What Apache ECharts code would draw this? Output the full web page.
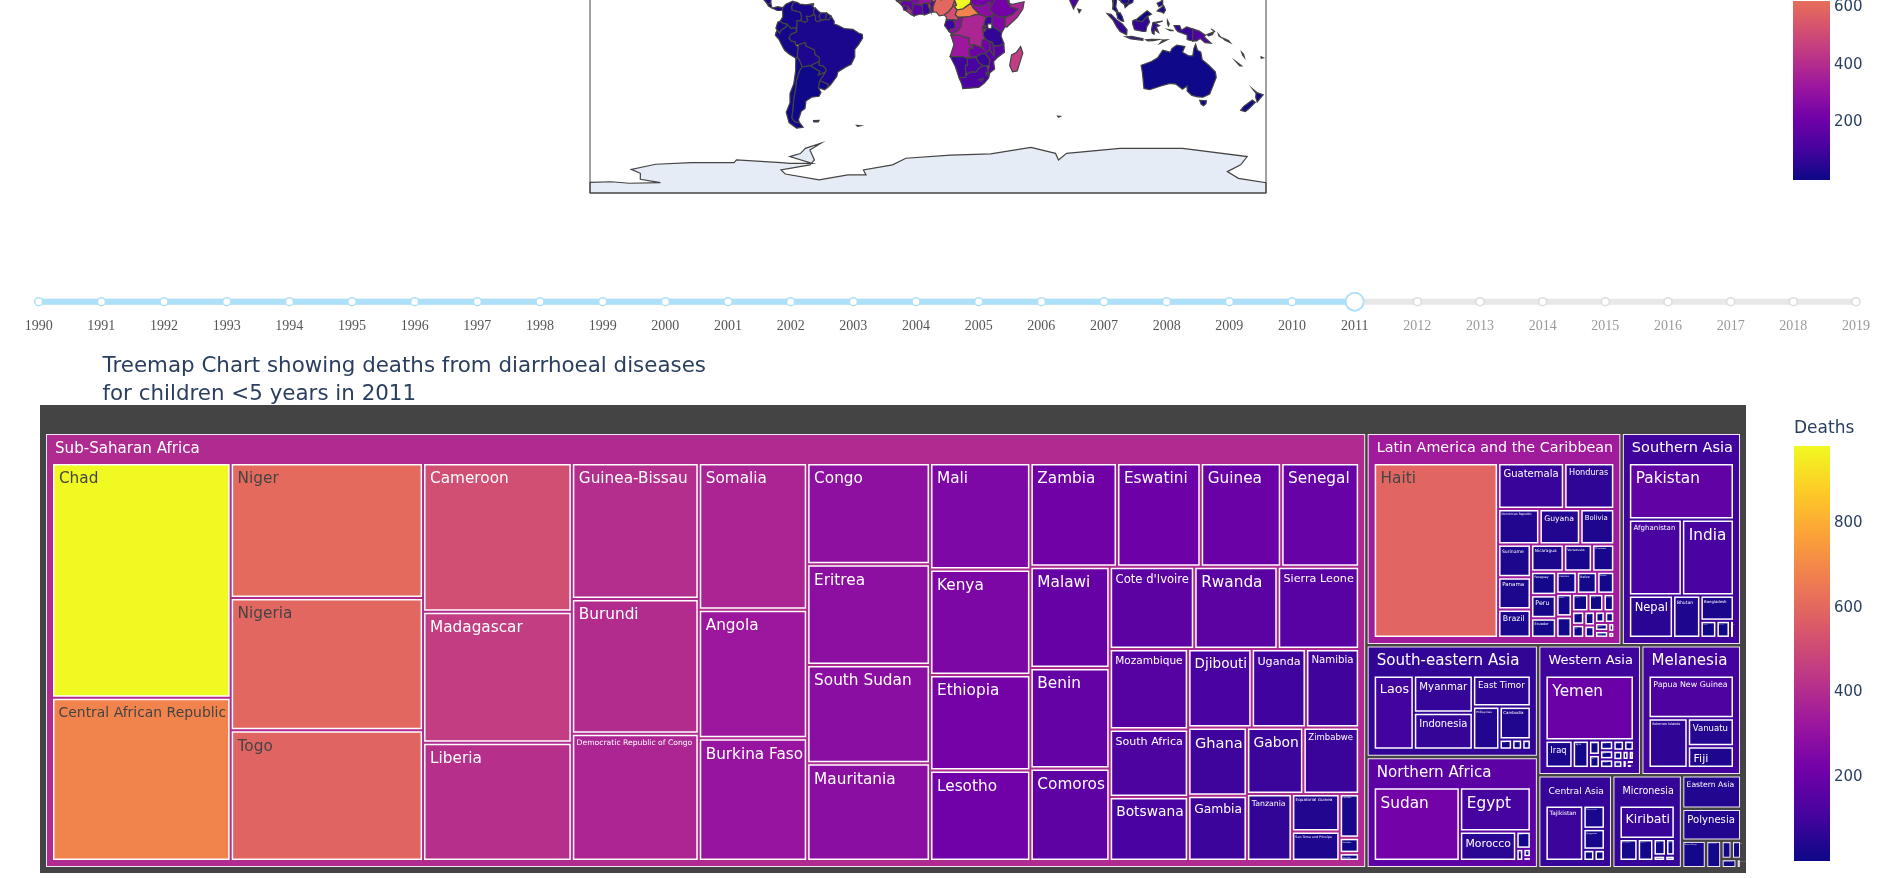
<!DOCTYPE html>
<html><head><meta charset="utf-8">
<style>html,body{margin:0;padding:0;background:#fff;overflow:hidden}#c{width:1897px;height:878px}</style>
<script src="https://cdn.jsdelivr.net/npm/echarts@6/dist/echarts.min.js"></script>
</head><body><div id="c"></div>
<script>
const years=[1990,1991,1992,1993,1994,1995,1996,1997,1998,1999,2000,2001,2002,2003,2004,2005,2006,2007,2008,2009,2010,2011,2012,2013,2014,2015,2016,2017,2018,2019];
const currentYear=2011;
const plasma=['#0d0887','#46039f','#7201a8','#9c179e','#bd3786','#d8576b','#ed7953','#fb9f3a','#fdca26','#f0f921'];
const deathsMax=984;
const mapBarVisibleMax=623;
const colorbarTicks=[200,400,600,800];
const titleLines=['Treemap Chart showing deaths from diarrhoeal diseases','for children <5 years in 2011'];

const subSaharanNames=['Chad','Central African Republic','Niger','Nigeria','Togo','Cameroon','Madagascar','Liberia','Guinea-Bissau','Burundi','Democratic Republic of Congo','Somalia','Angola','Burkina Faso','Congo','Eritrea','South Sudan','Mauritania','Mali','Kenya','Ethiopia','Lesotho','Zambia','Eswatini','Guinea','Senegal','Malawi','Benin','Comoros',"Cote d'Ivoire",'Rwanda','Sierra Leone','Mozambique','South Africa','Botswana','Djibouti','Uganda','Namibia','Ghana','Gambia','Gabon','Zimbabwe','Tanzania','Equatorial Guinea','Sao Tome and Principe','Cape Verde','Mauritius','Seychelles'];
const subSaharanDeaths=[984,684,609,597,590,519,457,413,405,401,379,373,327,312,292,290,283,282,251,248,225,213,211,204,196,190,188,187,172,163,161,157,148,124,118,117,100,98,94,90,88,87,70.6,42,33,20,7,3.6];
const latinNames=['Haiti','Guatemala','Honduras','Dominican Republic','Guyana','Bolivia','Suriname','Panama','Brazil','Nicaragua','Venezuela','El Salvador','Paraguay','Peru','Ecuador','Colombia','Belize','Mexico','Jamaica','Trinidad and Tobago','Saint Lucia','Grenada','Dominica','Argentina','Chile','Uruguay','Costa Rica','Cuba','Puerto Rico','Barbados','Bahamas','Antigua','Bermuda'];
const latinDeaths=[594,83,63,40,39.5,33,29.5,29,25.5,24.5,21,16.6,16.1,15.9,13.5,12.5,12.3,10.4,9.8,9.2,7.9,7.2,5.2,4.5,4.4,4.1,3.6,3.1,3,2.9,2.5,1.5,1];
const southAsiaNames=['Pakistan','Afghanistan','India','Nepal','Bhutan','Bangladesh','Maldives','Sri Lanka','Iran'];
const southAsiaDeaths=[174,118,116,55,34,25,8,6.8,2];
const southEastAsiaNames=['Laos','Myanmar','Indonesia','East Timor','Philippines','Cambodia','Vietnam','Thailand','Malaysia'];
const southEastAsiaDeaths=[104,77,76,63,40,36,4.5,3.6,3.1];
const northAfricaNames=['Sudan','Egypt','Morocco','Algeria','Libya','Tunisia','Western Sahara'];
const northAfricaDeaths=[222,110,58,8.8,3,2.2,1];
const westAsiaNames=['Yemen','Iraq','Syria','Saudi Arabia','Turkey','Jordan','Oman','Azerbaijan','Georgia','Palestine','Armenia','Lebanon','Kuwait','Qatar','Bahrain','United Arab Emirates','Israel','Cyprus'];
const westAsiaDeaths=[200,26,15.5,5.5,5,4.5,4.2,4,3.8,3.5,3,2.5,2,1.7,1.2,1,0.7,0.3];
const melanesiaNames=['Papua New Guinea','Solomon Islands','Vanuatu','Fiji'];
const melanesiaDeaths=[128,68,45,35];
const centralAsiaNames=['Tajikistan','Turkmenistan','Kyrgyzstan','Uzbekistan','Kazakhstan'];
const centralAsiaDeaths=[93,22.3,20,5.5,5.2];
const micronesiaNames=['Kiribati','Marshall Islands','Micronesia','Nauru','Palau','Guam','Tuvalu'];
const micronesiaDeaths=[83,18,15.6,9.4,6.6,2.8,2.3];
const regionNames=['Sub-Saharan Africa','Latin America and the Caribbean','Southern Asia','South-eastern Asia','Northern Africa','Western Asia','Melanesia','Central Asia','Micronesia'];
const regionColorValues=[395,340,98,72,165,95,105,75,75];
const regionCountries=[subSaharanNames,latinNames,southAsiaNames,southEastAsiaNames,northAfricaNames,westAsiaNames,melanesiaNames,centralAsiaNames,micronesiaNames];
const regionDeaths=[subSaharanDeaths,latinDeaths,southAsiaDeaths,southEastAsiaDeaths,northAfricaDeaths,westAsiaDeaths,melanesiaDeaths,centralAsiaDeaths,micronesiaDeaths];
const plainRegionNames=['Eastern Asia','Polynesia','Eastern Europe','Southern Europe','Western Europe','Northern Europe','Northern America','Australia and New Zealand'];
const plainRegionDeaths=[42,40,14,9,4,3.7,3,0.9];
const darkLabelFrom=550;

const landOnlyDeaths={'Australia':3,'New Zealand':3,'Falkland Islands':3,'French Guiana':10,'South Georgia':3,'Kerguelen':3,'New Caledonia':10};
const lakeNames=['Lake Victoria'];
const worldShapes={
 'Colombia':[[[-77.4,8.7],[-75.5,10.7],[-72,12.2],[-71.3,11.8],[-72.5,9.5],[-72.4,7.4],[-70.1,6.9],[-67.8,6.2],[-67.3,3.5],[-67.8,1.8],[-69.8,1.7],[-69.8,-0.5],[-69.9,-4.2],[-70.6,-2],[-72.9,-2.4],[-75.2,-0.1],[-77,0.3],[-78.8,1.4],[-77.3,3.8],[-77.4,6.5]]],
 'Venezuela':[[[-71.3,11.8],[-69.7,11.5],[-68.2,10.6],[-65,10.2],[-62,10.7],[-60.8,8.6],[-60.1,8.5],[-61,7],[-60.7,5.2],[-62.8,4],[-64.8,4.1],[-64,1.9],[-65.5,0.8],[-67,1.5],[-67.8,1.8],[-67.3,3.5],[-67.8,6.2],[-70.1,6.9],[-72.4,7.4],[-72.5,9.5]]],
 'Guyana':[[[-60.1,8.5],[-58.5,7],[-57.2,5.9],[-58,4],[-56.8,1.9],[-58.8,1.2],[-60,2],[-59.9,4],[-60.7,5.2],[-61,7]]],
 'Suriname':[[[-57.2,5.9],[-54,5.9],[-54.5,2.4],[-56.8,1.9],[-58,4]]],
 'French Guiana':[[[-54,5.9],[-51.7,4.3],[-52.7,2.3],[-54.5,2.4]]],
 'Ecuador':[[[-80,1],[-78.8,1.4],[-77,0.3],[-75.2,-0.1],[-75.5,-1.5],[-78.4,-3.4],[-79,-5],[-80.3,-3.4],[-81,-2.2]]],
 'Peru':[[[-81,-4.7],[-80.3,-3.4],[-79,-5],[-78.4,-3.4],[-75.5,-1.5],[-75.2,-0.1],[-72.9,-2.4],[-70.6,-2],[-69.9,-4.2],[-73,-5.5],[-74,-7.5],[-72.9,-9],[-70.6,-9.5],[-70.6,-11],[-69,-12.5],[-69.5,-15],[-69.5,-17.5],[-70.4,-18.3],[-74,-16],[-76.3,-14],[-77.5,-12],[-79.5,-8],[-81.3,-6]]],
 'Brazil':[[[-51.7,4.3],[-50,1.5],[-50,0],[-48,-0.7],[-44.5,-2.5],[-40,-2.8],[-37,-4.8],[-35,-5.5],[-34.8,-7.5],[-37,-11],[-39,-13.5],[-39,-17.5],[-40.9,-21.5],[-44,-23],[-48,-25.5],[-48.6,-28],[-52,-32.5],[-53.4,-33.7],[-53.3,-32],[-57.6,-30.2],[-54.6,-25.6],[-54.3,-24],[-55.8,-22.4],[-58,-22],[-58,-20],[-57.8,-18],[-60.2,-16.3],[-60.5,-13.8],[-65,-11.8],[-65.3,-10],[-69,-11],[-70.6,-11],[-70.6,-9.5],[-72.9,-9],[-74,-7.5],[-73,-5.5],[-69.9,-4.2],[-69.8,-0.5],[-69.8,1.7],[-67.8,1.8],[-67,1.5],[-65.5,0.8],[-64,1.9],[-64.8,4.1],[-62.8,4],[-60.7,5.2],[-59.9,4],[-60,2],[-58.8,1.2],[-56.8,1.9],[-54.5,2.4],[-52.7,2.3]]],
 'Bolivia':[[[-69,-11],[-65.3,-10],[-65,-11.8],[-60.5,-13.8],[-60.2,-16.3],[-57.8,-18],[-58,-20],[-62.6,-22.2],[-67,-22.9],[-68.4,-19.5],[-69.5,-17.5],[-69.5,-15],[-69,-12.5]]],
 'Paraguay':[[[-58,-20],[-58,-22],[-55.8,-22.4],[-54.3,-24],[-54.6,-25.6],[-58.5,-27.2],[-57.6,-25.3],[-60,-24],[-62.6,-22.2]]],
 'Chile':[[[-70.4,-18.3],[-69.5,-17.5],[-68.4,-19.5],[-67,-22.9],[-68.4,-25],[-70,-30],[-70.5,-35],[-71.5,-40],[-71.8,-45],[-72.5,-50],[-71,-52],[-68.5,-52.5],[-66.5,-55],[-70,-55.5],[-74,-52.5],[-75.5,-47],[-73.5,-42],[-73.5,-37],[-71.5,-32],[-70.5,-25]]],
 'Argentina':[[[-67,-22.9],[-62.6,-22.2],[-60,-24],[-57.6,-25.3],[-58.5,-27.2],[-54.6,-25.6],[-57.6,-30.2],[-58.4,-34],[-57,-36.5],[-58,-38.5],[-62,-39],[-65,-41],[-65.5,-45],[-67.5,-46.5],[-69,-51],[-68.5,-52.5],[-71,-52],[-72.5,-50],[-71.8,-45],[-71.5,-40],[-70.5,-35],[-70,-30],[-68.4,-25]]],
 'Uruguay':[[[-57.6,-30.2],[-53.3,-32],[-53.4,-33.7],[-55,-35],[-58.4,-34]]],
 'Falkland Islands':[[[-61,-51.5],[-58,-51.3],[-58.5,-52.2],[-60.8,-52.2]]],
 'South Georgia':[[[-38,-54],[-36,-54.2],[-36.5,-54.7],[-37.5,-54.5]]],
 'Panama':[[[-83,8.5],[-80,9.2],[-77.4,8.7],[-77.9,7.2],[-80.4,7.3]]],
 'Costa Rica':[[[-85.8,11],[-83.7,10.9],[-83,8.5],[-85,9.5]]],
 'Nicaragua':[[[-87.5,13],[-83.5,15],[-83.7,10.9],[-85.8,11]]],
 'Trinidad and Tobago':[[[-61.8,10.1],[-60.9,10.1],[-61,10.8],[-61.8,10.7]]],
 'Senegal':[[[-17.5,14.7],[-16.7,12.3],[-13.7,12.6],[-11.4,12.4],[-12,14.5],[-14,16.6],[-16.5,16]]],
 'Guinea-Bissau':[[[-16.7,12.3],[-13.7,12.6],[-13.7,11.7],[-15,11]]],
 'Guinea':[[[-15,11],[-13.7,11.7],[-13.7,12.6],[-11.4,12.4],[-9,12.4],[-7.7,10.4],[-8.2,7.6],[-9.4,7.4],[-10.7,9.3],[-12.4,9.9],[-13.3,9.1]]],
 'Sierra Leone':[[[-13.3,9.1],[-12.4,9.9],[-10.7,9.3],[-10.7,8.5],[-11.4,6.9],[-13,7.6]]],
 'Liberia':[[[-11.4,6.9],[-10.7,8.5],[-10.7,9.3],[-9.4,7.4],[-8.2,7.6],[-8.5,5.9],[-7.5,4.4],[-9,5]]],
 "Cote d'Ivoire":[[[-7.5,4.4],[-8.5,5.9],[-8.2,7.6],[-7.7,10.4],[-5.4,10.4],[-3,10],[-2.7,5.2],[-4.5,5.2]]],
 'Ghana':[[[-3,10],[-2.8,11],[-0.2,11.1],[0.5,9],[1.2,6.1],[-2,4.8],[-2.7,5.2]]],
 'Togo':[[[-0.2,11.1],[0.9,11],[1.6,9],[1.6,6.2],[1.2,6.1],[0.5,9]]],
 'Benin':[[[0.9,11],[2.4,12.2],[3.6,11.7],[2.7,9],[2.7,6.4],[1.6,6.2],[1.6,9]]],
 'Nigeria':[[[2.7,6.4],[2.7,9],[3.6,11.7],[4.1,13.5],[7,13],[10,13.3],[13.6,13.7],[14.2,12.4],[13,9],[11,6.6],[8.6,4.8],[6,4.3],[4.4,6.3]]],
 'Burkina Faso':[[[-5.4,10.4],[-5.5,12],[-3.8,13.5],[-1,15],[1,14.9],[2.4,12.2],[0.9,11],[-0.2,11.1],[-2.8,11],[-3,10]]],
 'Mali':[[[-12,14.5],[-11.4,12.4],[-9,12.4],[-7.7,10.4],[-5.4,10.4],[-5.5,12],[-3.8,13.5],[-1,15],[-1,20],[-12,20]]],
 'Niger':[[[1,14.9],[2.4,12.2],[3.6,11.7],[4.1,13.5],[7,13],[10,13.3],[13.6,13.7],[15.5,16.9],[12,23],[4,19]]],
 'Chad':[[[14.2,12.4],[15.1,10],[13.9,9.4],[15.5,7.5],[18.6,8],[20,9],[22.8,11],[22.9,13],[22,15],[24,19.5],[15.5,23],[15.5,16.9],[13.6,13.7]]],
 'Cameroon':[[[8.6,4.8],[11,6.6],[13,9],[14.2,12.4],[15.1,10],[13.9,9.4],[15.5,7.5],[14.5,5],[16.1,3.5],[16,1.8],[13.3,2.2],[9.8,2.3],[9.7,3.9]]],
 'Central African Republic':[[[15.5,7.5],[18.6,8],[20,9],[22.8,11],[24,8.7],[27.4,5.1],[25,5],[22.4,4],[18.5,3.6],[16.1,3.5],[14.5,5]]],
 'South Sudan':[[[24,8.7],[22.8,11],[25,10],[27,9.6],[30,10],[33,12],[34,10],[33,7.8],[35,5.4],[34,4.2],[31,3.7],[27.4,5.1]]],
 'Sudan':[[[22.8,11],[22.9,13],[22,15],[24,20],[37,20],[36.5,14.5],[34,10],[33,12],[30,10],[27,9.6],[25,10]]],
 'Eritrea':[[[36.5,14.5],[37,18],[39.5,15],[43.1,12.7],[41,14.5]]],
 'Ethiopia':[[[36.5,14.5],[41,14.5],[42.3,12.5],[42.9,11],[44,9],[48,8],[45,5],[42,4],[39.5,3.5],[36,4.5],[35,5.4],[33,7.8],[34,10]]],
 'Djibouti':[[[42.3,12.5],[43.2,12.4],[43.3,11.5],[42.9,11]]],
 'Somalia':[[[42.9,11],[43.3,11.5],[45,10.5],[48,11.2],[51.2,11.8],[50.5,8],[47.5,3.5],[42,-1.6],[41,-1.5],[41,3],[42,4],[45,5],[48,8],[44,9]]],
 'Kenya':[[[34,4.2],[35,5.4],[36,4.5],[39.5,3.5],[42,4],[41,3],[41,-1.5],[39.2,-4.7],[37.7,-3.5],[34,-1],[34,1]]],
 'Uganda':[[[31,3.7],[34,4.2],[34,1],[34,-1],[30.5,-1],[29.6,-1.4],[30,1.5]]],
 'Tanzania':[[[30.5,-1],[34,-1],[37.7,-3.5],[39.2,-4.7],[38.9,-6.5],[39.5,-8],[40.4,-10.5],[37.8,-11.7],[34.9,-11.5],[34,-9.5],[32,-9],[30.5,-8],[29.4,-6],[29.4,-4.4],[30.7,-3.4],[30.8,-2.4]]],
 'Lake Victoria':[[[31.7,0],[34,0.2],[34,-2.2],[32,-2.7]]],
 'Rwanda':[[[29,-1.4],[30.5,-1],[30.8,-2.4],[29,-2.7]]],
 'Burundi':[[[29,-2.7],[30.8,-2.4],[30.7,-3.4],[29.4,-4.4]]],
 'Democratic Republic of Congo':[[[12.2,-6],[13,-4.7],[14,-4.5],[16,-3.5],[17.7,-1],[17.7,1],[18.5,3.6],[22.4,4],[25,5],[27.4,5.1],[31,3.7],[30,1.5],[29.6,-1.4],[29,-1.4],[29,-2.7],[29.4,-4.4],[29.4,-6],[30.5,-8],[28.9,-8.5],[28.5,-11.8],[29.8,-13.4],[28.4,-12.5],[25.4,-11.4],[22,-11],[22,-9.5],[21.8,-7.3],[19.5,-7],[17,-6],[13,-5.9]]],
 'Congo':[[[11.1,-3.9],[12.2,-5],[13,-4.7],[14,-4.5],[16,-3.5],[17.7,-1],[17.7,1],[18.5,3.6],[16.1,3.5],[16,1.8],[13.3,2.2],[14.4,-0.2],[14.2,-2.3],[12.5,-2.4],[11.7,-3]]],
 'Gabon':[[[9.8,2.3],[13.3,2.2],[14.4,-0.2],[14.2,-2.3],[12.5,-2.4],[11.7,-3],[11.1,-3.9],[8.8,-0.8]]],
 'Angola':[[[12.2,-6],[13,-5.9],[17,-6],[19.5,-7],[21.8,-7.3],[22,-9.5],[22,-11],[24,-11],[24,-13],[22,-13],[22,-16.2],[23.4,-17.6],[20.9,-18.3],[18.5,-17.4],[11.8,-17.3],[13.8,-11]]],
 'Zambia':[[[22,-13],[24,-13],[24,-11],[25.4,-11.4],[28.4,-12.5],[29.8,-13.4],[28.5,-11.8],[28.9,-8.5],[30.5,-8],[32,-9],[33,-9.5],[33,-14],[30.3,-15.6],[28,-16],[25.5,-17.5],[23.4,-17.6],[22,-16.2]]],
 'Malawi':[[[33,-9.5],[34,-9.5],[34.9,-11.5],[35.3,-14.4],[35.2,-17],[34.3,-15.8],[33,-14]]],
 'Mozambique':[[[34.9,-11.5],[37.8,-11.7],[40.4,-10.5],[40.7,-15],[37,-17.8],[34.9,-20],[35.5,-24],[32.9,-26],[32,-25.8],[32.5,-22.3],[32.9,-19],[30.3,-15.6],[33,-14],[34.3,-15.8],[35.2,-17],[35.3,-14.4]]],
 'Zimbabwe':[[[25.5,-17.5],[28,-16],[30.3,-15.6],[32.9,-19],[32.5,-22.3],[29.4,-22.2],[27,-20.6]]],
 'Namibia':[[[11.8,-17.3],[18.5,-17.4],[20.9,-18.3],[25,-17.8],[23.4,-18],[21,-18.3],[21,-22],[20,-22],[20,-28.4],[16.5,-28.6],[14.5,-22.5]]],
 'Botswana':[[[21,-18.3],[23.4,-18],[25.5,-17.8],[27,-20.6],[29.4,-22.2],[27,-23.7],[25.5,-25.7],[22.8,-25.5],[20.8,-26.8],[20,-25],[20,-22],[21,-22]]],
 'South Africa':[[[16.5,-28.6],[20,-28.4],[20.8,-26.8],[22.8,-25.5],[25.5,-25.7],[27,-23.7],[29.4,-22.2],[31.5,-22.4],[32,-25.8],[32.9,-26],[32.3,-28.8],[30,-31.5],[27,-33.8],[22,-34.2],[18.5,-34.4],[18,-32]]],
 'Lesotho':[[[27,-29.7],[29.3,-29],[29,-30.5],[27.5,-30.5]]],
 'Eswatini':[[[30.9,-25.8],[32,-26],[32,-27.3],[31,-27.1]]],
 'Madagascar':[[[49.3,-12],[50.5,-15.5],[47.5,-25],[45,-25.5],[43.5,-22],[44.5,-16.5],[47,-15.2]]],
 'India':[[[74.5,14.8],[77.5,8.1],[80.2,13],[80.2,16],[74.5,16]]],
 'Sri Lanka':[[[79.8,8],[81.5,7.5],[80.5,6]]],
 'Thailand':[[[99,14],[98.3,8],[100.3,6.5],[101.5,5.8],[100,9],[100.5,13.5],[102,12.7],[103,14]]],
 'Myanmar':[[[94.3,16],[97.5,16.5],[98.7,10],[99,14],[99,16]]],
 'Cambodia':[[[102.5,14],[102.7,11.8],[104.5,10.5],[106.5,11],[107.5,14]]],
 'Vietnam':[[[107.5,14.5],[109.3,13],[109,11.5],[106.8,10.4],[105,8.7],[104.5,10.5],[106.5,11],[107.5,14]]],
 'Malaysia':[[[100.3,6.5],[101.5,5.8],[102.3,6],[103.4,4],[104.2,1.4],[103,1.6],[101,3]],[[109.7,2],[111.3,2.7],[113.5,4.5],[116.7,7],[119,5.2],[117,4.2],[114,1.2]]],
 'Indonesia':[[[95.3,5.6],[97.5,5.2],[100.5,2.2],[103.5,0],[106,-3],[105.8,-5.8],[102.3,-4],[100.5,-1.5],[98.7,1.8]],[[105.2,-6.8],[108.5,-6.6],[114.5,-7.8],[114.4,-8.7],[108,-7.9]],[[109,1.5],[109.7,2],[114,1.2],[117,4.2],[118,1],[116.5,-1.5],[116,-4],[114.5,-4],[110,-3],[109,0]],[[119.8,0.8],[125,1.5],[121,0.4],[123.3,-0.9],[121.5,-1.5],[122.8,-4.5],[120.5,-3],[120.4,-5.5],[119.5,-5],[119,-3]],[[116,-8.4],[119,-8.2],[123,-8.3],[120,-8.9],[117,-9]],[[127.5,2],[128.5,0],[128,-1],[127.5,0.5]],[[128,-3],[130.8,-3.5],[129,-3.5]],[[131,-0.8],[134,-0.8],[135,-3.3],[137.8,-1.5],[141,-2.6],[141,-9.1],[138,-8.3],[138,-5.8],[133,-4],[132,-2.8]]],
 'East Timor':[[[123.5,-10.3],[127.3,-8.4],[125,-8.6]]],
 'Philippines':[[[122,7],[125.5,9.8],[126.5,7.5],[125.5,5.8],[124,6.5]],[[120.5,16],[122,16],[124,13],[121,13.5]],[[122,11],[125,12.5],[125,10.2],[123,9.2]]],
 'Papua New Guinea':[[[141,-2.6],[144.5,-3.8],[147.8,-6],[147,-6.8],[150.8,-10.3],[147.5,-10],[145,-7.7],[143,-9],[141,-9.1]],[[148.5,-5.6],[152.2,-4.2],[151.5,-5.6],[149.5,-6.3]],[[150.8,-2.7],[152.9,-4.2],[152.5,-3.8]],[[154.7,-5.5],[155.8,-7],[155,-6.5]]],
 'Solomon Islands':[[[157,-7.5],[160,-8.8],[161,-10],[158,-8.5]]],
 'Vanuatu':[[[167,-15],[167.5,-16.5],[168.5,-17.8],[168,-16]]],
 'New Caledonia':[[[164,-20],[167,-22.3],[166,-22.3]]],
 'Fiji':[[[177.4,-17.5],[178.6,-18],[177.5,-18.3]]],
 'Australia':[[[113.5,-22],[114.2,-26],[115,-34.3],[118,-35],[124,-33],[129,-31.6],[132,-32],[135.5,-34.8],[138,-33],[138,-35.7],[140.5,-38],[143.5,-38.8],[146.5,-39],[150,-37.3],[151.5,-33.5],[153.5,-28.5],[153,-25.5],[149.5,-22],[146,-19],[145.3,-15],[143.5,-14],[142.5,-10.8],[141.6,-13],[141,-17],[139,-17],[135.5,-15],[136.8,-12],[132.5,-11.2],[130,-13],[129,-15],[125,-14],[122.3,-18],[119,-20]],[[144.7,-40.7],[148.3,-40.9],[148,-42.5],[146.8,-43.6],[145.5,-42.8]]],
 'New Zealand':[[[172.7,-34.4],[175.5,-36.7],[178.5,-37.7],[177,-39.5],[175.3,-41.6],[174.5,-39],[174.7,-37]],[[172.7,-40.5],[174.3,-41.7],[171,-45],[169,-46.6],[166.5,-46],[168,-44]]],
 'Kerguelen':[[[69,-49],[70.5,-49.2],[69.5,-49.7]]],
 'Antarctica':[[[-180,-84.3],[-168.7,-84],[-159,-84.8],[-142.5,-84.5],[-153.2,-82.7],[-153.2,-79.5],[-158,-77.4],[-145,-74.7],[-126,-73.8],[-103.3,-73.8],[-102,-72.4],[-78.3,-73.8],[-73.6,-74.2],[-61.7,-74.2],[-73.6,-70.6],[-68,-69],[-65.3,-66.2],[-57,-63.5],[-62.9,-67.1],[-60.5,-72.4],[-62.9,-75],[-78.3,-77.7],[-76,-79.9],[-58,-83],[-42.7,-80.4],[-33,-80.4],[-34.4,-77.7],[-18.9,-75],[-11.8,-71.5],[12,-69.8],[33.4,-69.2],[54.8,-65.7],[67.9,-68.9],[69.5,-72.4],[73.8,-68.9],[102.3,-66.2],[135.6,-66.2],[170,-70.6],[166.5,-75],[159.4,-78.6],[165.3,-82.2],[180,-84.5],[180,-90],[-180,-90]]]
};

function hexRgb(h){return [1,3,5].map(i=>parseInt(h.substr(i,2),16));}
function plasmaColor(v){
  const t=Math.min(1,Math.max(0,v/deathsMax))*(plasma.length-1);
  const i=Math.min(plasma.length-2,Math.floor(t)),f=t-i;
  const a=hexRgb(plasma[i]),b=hexRgb(plasma[i+1]);
  return 'rgb('+a.map((c,k)=>Math.round(c+(b[k]-c)*f)).join(',')+')';
}
const FONT='"DejaVu Sans",Verdana,sans-serif';
const LEAF_FONT=15.3, HEADER_FONT=15.1;
const ctx=document.createElement('canvas').getContext('2d');
function fitFont(name,cap,avail,availH){
  ctx.font=cap+'px "DejaVu Sans"';
  const w=ctx.measureText(name).width;
  return Math.max(1,Math.min(cap,cap*avail/w,availH));
}
function leafLabel(n,key,sizes,color){
  const s=sizes&&sizes[key];
  const f=s?fitFont(n,LEAF_FONT,s.w-9,(s.h-3)/1.5):LEAF_FONT;
  return {fontSize:f,color:color,padding:[f*0.42,0,0,f*0.29]};
}
function buildData(sizes){
  const leaf=(n,v)=>({name:n,value:v,itemStyle:{color:plasmaColor(v)},
    label:leafLabel(n,'3|'+n,sizes,v>=darkLabelFrom?'#444':'#fff')});
  const wrapped=regionNames.map((r,i)=>{
    const s=sizes&&sizes['2|'+r];
    return {name:r,children:[{
    name:r,
    itemStyle:{borderColor:plasmaColor(regionColorValues[i]),color:plasmaColor(regionColorValues[i])},
    upperLabel:{fontSize:s?fitFont(r,HEADER_FONT,s.w-14,99):HEADER_FONT},
    children:regionCountries[i].map((n,k)=>leaf(n,regionDeaths[i][k]))
  }]};});
  const plain=plainRegionNames.map((n,i)=>({name:n,value:plainRegionDeaths[i],itemStyle:{color:plasmaColor(plainRegionDeaths[i])},
    label:leafLabel(n,'1|'+n,sizes,'#fff')}));
  return [{name:'All',children:wrapped.concat(plain)}];
}
const deathsByName={};
regionCountries.forEach((l,i)=>l.forEach((n,k)=>deathsByName[n]=regionDeaths[i][k]));
Object.assign(deathsByName,landOnlyDeaths);
echarts.registerMap('world',{type:'FeatureCollection',features:Object.keys(worldShapes).map(n=>({type:'Feature',properties:{name:n},geometry:{type:'MultiPolygon',coordinates:worldShapes[n].map(r=>[r])}}))});
const mapData=Object.keys(deathsByName).filter(n=>worldShapes[n]).map(n=>({name:n,value:deathsByName[n],itemStyle:{areaColor:plasmaColor(deathsByName[n])}})).concat(lakeNames.map(n=>({name:n,itemStyle:{areaColor:'#fff'}})));
function gradientTo(top){
  const stops=plasma.map((c,i)=>({offset:i/(plasma.length-1)*deathsMax/top,color:c})).filter(s=>s.offset<=1);
  if(stops[stops.length-1].offset<1)stops.push({offset:1,color:plasmaColor(top)});
  return {type:'linear',x:0,y:1,x2:0,y2:0,colorStops:stops};
}
function colorbarAxis(idx,top){return {gridIndex:idx,type:'value',position:'right',min:0,max:top,interval:200,splitLine:{show:false},axisLine:{show:false},axisTick:{show:false},
  axisLabel:{margin:4,fontFamily:FONT,fontSize:15,color:'#2a3f5f',showMaxLabel:false,formatter:v=>colorbarTicks.includes(v)?String(v):''}};}
function colorbarBar(idx,top){return {type:'bar',xAxisIndex:idx,yAxisIndex:idx,data:[top],barWidth:'100%',itemStyle:{color:gradientTo(top)},silent:true,animation:false};}
const option={
  animation:false,
  backgroundColor:'#fff',
  title:[
    {text:titleLines.join('\n'),left:97.5,top:347,textStyle:{fontFamily:FONT,fontSize:21.4,fontWeight:'normal',color:'#2a3f5f',lineHeight:28}},
    {text:'Deaths',left:1794,top:420.5,padding:0,textStyle:{fontFamily:FONT,fontSize:17,fontWeight:'normal',color:'#2a3f5f'}}
  ],
  grid:[
    {left:1793,top:0,width:37,height:180},
    {left:1794,top:446,width:36,height:415}
  ],
  xAxis:[{gridIndex:0,type:'category',data:[''],show:false},{gridIndex:1,type:'category',data:[''],show:false}],
  yAxis:[colorbarAxis(0,mapBarVisibleMax),colorbarAxis(1,deathsMax)],
  timeline:{
    axisType:'category',show:true,autoPlay:false,currentIndex:years.indexOf(currentYear),
    data:years.map(y=>String(y)),
    left:38.7,right:41,top:291.7,height:50,padding:0,
    symbol:'circle',symbolSize:8,
    lineStyle:{color:'#e8e8e8',width:6},
    itemStyle:{color:'#fff',borderColor:'#dcdcdc',borderWidth:1.5},
    label:{position:17.5,interval:0,color:'#999',fontFamily:'"Liberation Serif",serif',fontSize:14},
    progress:{lineStyle:{color:'#ade1fa'},itemStyle:{color:'#fff',borderColor:'#ade1fa',borderWidth:1.5},label:{color:'#555',fontFamily:'"Liberation Serif",serif',fontSize:14}},
    checkpointStyle:{symbol:'circle',symbolSize:18,color:'#fff',borderColor:'#ade1fa',borderWidth:2,animation:false},
    controlStyle:{show:false},
    emphasis:{disabled:true}
  },
  graphic:[{type:'rect',silent:true,z:50,shape:{x:590,y:-5,width:676,height:198},style:{fill:'none',stroke:'#444',lineWidth:1}}],
  series:[
    {type:'map',map:'world',aspectScale:1,boundingCoords:[[-180,90],[180,-90]],layoutCenter:[928,24],layoutSize:676,silent:true,
     itemStyle:{areaColor:'#E5ECF6',borderColor:'#444',borderWidth:1.2},label:{show:false},emphasis:{disabled:true},data:mapData},
    colorbarBar(0,mapBarVisibleMax),colorbarBar(1,deathsMax),
    {type:'treemap',left:40,top:405,width:1706,height:468,roam:false,nodeClick:false,silent:true,
     breadcrumb:{show:false},squareRatio:1,visibleMin:0,sort:'desc',childrenVisibleMin:null,
     label:{show:true,position:'insideTopLeft',fontFamily:FONT,fontSize:15,overflow:'none',color:'#fff'},
     upperLabel:{show:false},
     levels:[
       {itemStyle:{borderWidth:0,gapWidth:0}},
       {itemStyle:{borderWidth:6,gapWidth:2.5,borderColor:'#444',color:'#444'},upperLabel:{show:true,height:29,formatter:()=>''}},
       {itemStyle:{borderWidth:1,gapWidth:0,borderColor:'#f4e6f2'},upperLabel:{show:false}},
       {itemStyle:{borderWidth:6,gapWidth:2},upperLabel:{show:true,height:29,position:[2,'47%'],fontFamily:FONT,color:'#fff',overflow:'none'}},
       {itemStyle:{borderWidth:1.5,gapWidth:0,borderColor:'#fff'}}
     ],
     data:buildData(null)}
  ]
};
const chart=echarts.init(document.getElementById('c'),null,{renderer:'canvas'});
chart.setOption(option);
const sizes={};
const tm=chart.getModel().getSeriesByType('treemap')[0];
tm.getData().tree.root.eachNode(n=>{const l=n.getLayout();if(l)sizes[(n.depth-1)+'|'+n.name]={w:l.width,h:l.height};});
const s=option.series[3];
s.data=buildData(sizes);
chart.setOption({series:[{},{},{},{data:s.data}]});
</script></body></html>
